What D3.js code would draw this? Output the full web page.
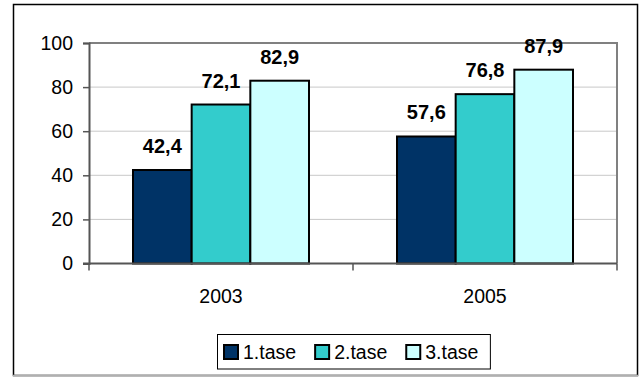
<!DOCTYPE html>
<html><head><meta charset="utf-8">
<script src="https://cdn.jsdelivr.net/npm/d3@7"></script>
<style>body{margin:0;background:#fff}svg{display:block}text{font-family:"Liberation Sans",Arial,sans-serif}</style>
</head><body>
<svg id="c" width="641" height="377"></svg>
<script>
const categories = ["2003", "2005"];
const seriesNames = ["1.tase", "2.tase", "3.tase"];
const series1 = [42.4, 57.6];
const series2 = [72.1, 76.8];
const series3 = [82.9, 87.9];
const yTicks = [0, 20, 40, 60, 80, 100];
const colors = ["#003366", "#33CCCC", "#CCFFFF"];

const allSeries = [series1, series2, series3];
const svg = d3.select("#c");
const W = 641, H = 377;
const m = {left: 89, right: 617, top: 43, bottom: 263.5};

// outer border
svg.append("rect").attr("x", 13.5).attr("y", 4.5).attr("width", 624).attr("height", 371)
  .attr("fill", "#fff").attr("stroke", "#000").attr("stroke-width", 1.5);
svg.append("line").attr("x1", 13).attr("x2", 638).attr("y1", 375.5).attr("y2", 375.5)
  .attr("stroke", "#b0b0b0").attr("stroke-width", 1.5);

const x0 = d3.scaleBand().domain(categories).range([m.left, m.right]).paddingInner(0).paddingOuter(0);
const groupW = x0.bandwidth();
const barW = groupW / (3 + 1.5);
const x1 = d3.scaleBand().domain(d3.range(3)).range([0, barW * 3]);
const y = d3.scaleLinear().domain([0, 100]).range([m.bottom, m.top]);

// gridlines
svg.append("g").selectAll("line").data(yTicks.filter(t => t > 0 && t < 100)).join("line")
  .attr("x1", m.left).attr("x2", m.right).attr("y1", d => y(d)).attr("y2", d => y(d))
  .attr("stroke", "#c8c8c8").attr("stroke-width", 1);

// plot border top/right
svg.append("path").attr("d", `M${m.left},${y(100)}H${m.right}V${m.bottom}`)
  .attr("fill", "none").attr("stroke", "#808080").attr("stroke-width", 2);

// bars
const g = svg.append("g");
categories.forEach((c, ci) => {
  allSeries.forEach((s, si) => {
    const bx = x0(c) + barW * 0.75 + x1(si);
    g.append("rect").attr("x", bx).attr("y", y(s[ci])).attr("width", x1.bandwidth())
      .attr("height", y(0) - y(s[ci])).attr("fill", colors[si])
      .attr("stroke", "#000").attr("stroke-width", 2);
    g.append("text").attr("x", bx + x1.bandwidth() / 2).attr("y", y(s[ci]) - 17)
      .attr("text-anchor", "middle").attr("font-size", 20).attr("font-weight", "bold")
      .attr("fill", "#000").text(String(s[ci]).replace(".", ","));
  });
});

// y axis
const yAxis = d3.axisLeft(y).tickValues(yTicks).tickSize(6).tickPadding(10);
const ya = svg.append("g").attr("transform", `translate(${m.left},0)`).call(yAxis);
ya.select(".domain").attr("stroke", "#555").attr("stroke-width", 2);
ya.selectAll(".tick line").attr("stroke", "#555").attr("stroke-width", 1.5);
ya.selectAll(".tick text").attr("font-size", 19.5).attr("fill", "#000")
  .attr("font-family", '"Liberation Sans",Arial,sans-serif');

// x axis
const xa = svg.append("g").attr("transform", `translate(0,${m.bottom})`);
xa.append("line").attr("x1", m.left - 6).attr("x2", m.right).attr("y1", 0).attr("y2", 0)
  .attr("stroke", "#555").attr("stroke-width", 2);
const bounds = [m.left, ...categories.map(c => x0(c) + groupW)];
xa.selectAll("line.t").data(bounds).join("line").attr("class", "t")
  .attr("x1", d => d).attr("x2", d => d).attr("y1", 0).attr("y2", 7)
  .attr("stroke", "#555").attr("stroke-width", 1.5);
xa.selectAll("text").data(categories).join("text")
  .attr("x", d => x0(d) + groupW / 2).attr("y", 39)
  .attr("text-anchor", "middle").attr("font-size", 19.5).attr("fill", "#000").text(d => d);

// legend
const lg = svg.append("g");
const lbox = lg.append("rect").attr("fill", "#fff").attr("stroke", "#000").attr("stroke-width", 1);
let lx = 224;
const ly = 352;
seriesNames.forEach((n, i) => {
  lg.append("rect").attr("x", lx).attr("y", ly - 7).attr("width", 14).attr("height", 14)
    .attr("fill", colors[i]).attr("stroke", "#000").attr("stroke-width", 2);
  const t = lg.append("text").attr("x", lx + 19).attr("y", ly + 7).attr("font-size", 19.5)
    .attr("fill", "#000").text(n);
  lx += 19 + t.node().getComputedTextLength() + 19;
});
lbox.attr("x", 217.5).attr("y", 334.5).attr("width", lx - 19 + 12 - 217.5).attr("height", 34.5);
</script>
</body></html>
